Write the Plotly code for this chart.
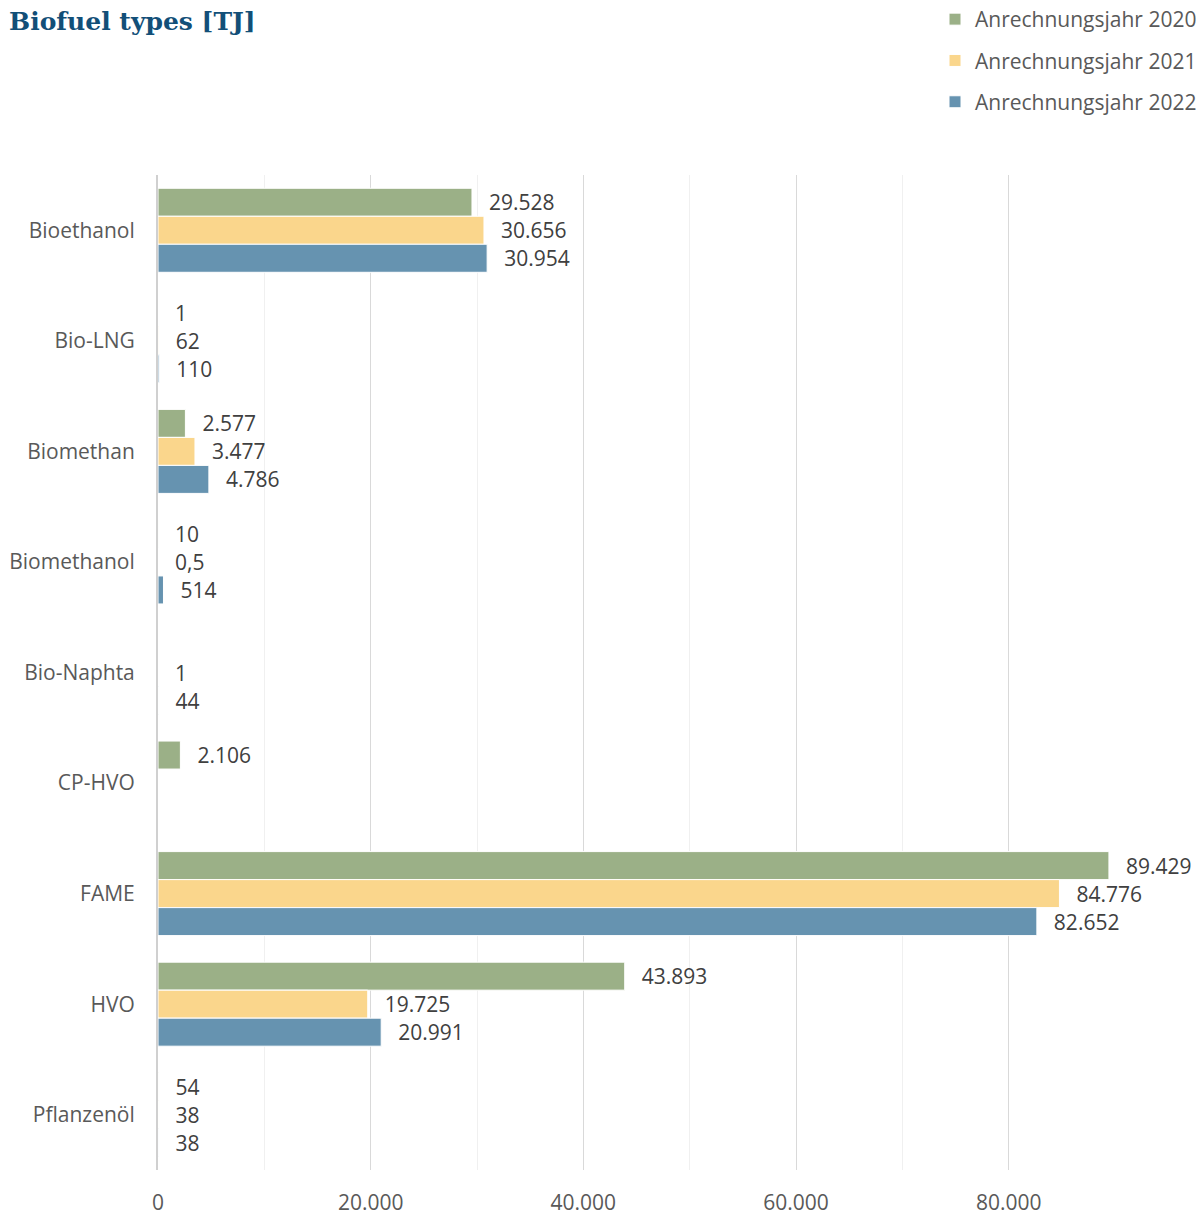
import plotly.graph_objects as go

categories = ["Bioethanol", "Bio-LNG", "Biomethan", "Biomethanol", "Bio-Naphta",
              "CP-HVO", "FAME", "HVO", "Pflanzenöl"]
series_names = ["Anrechnungsjahr 2020", "Anrechnungsjahr 2021", "Anrechnungsjahr 2022"]
values_2020 = [29528, 1, 2577, 10, None, 2106, 89429, 43893, 54]
values_2021 = [30656, 62, 3477, 0.5, 1, None, 84776, 19725, 38]
values_2022 = [30954, 110, 4786, 514, 44, None, 82652, 20991, 38]
colors = ["#9bb087", "#fad68c", "#6693b0"]
x_tickvals = [0, 20000, 40000, 60000, 80000]

# page body has an 8px default margin, so the figure is 8px smaller
W, H = 1196, 1208
ML, MR, MT, MB = 150, 89, 167, 46
PH = H - MT - MB

fig = go.Figure()
for name, vals, col in zip(series_names, [values_2020, values_2021, values_2022], colors):
    fig.add_trace(go.Bar(
        y=categories, x=vals, name=name, orientation="h",
        marker=dict(color=col, line=dict(color="white", width=1)),
        texttemplate="\u2002\u2009%{x:,}", textposition="outside",
        textfont=dict(family="Open Sans", size=21, color="#404040"),
        constraintext="none", cliponaxis=False,
        legendgroup=name, hoverinfo="x+y",
    ))

fig.update_layout(
    width=W, height=H,
    paper_bgcolor="white", plot_bgcolor="white",
    separators=",.",
    barmode="group", bargap=0.24, bargroupgap=0,
    margin=dict(l=ML, r=MR, t=MT, b=MB, autoexpand=False),
    font=dict(family="Open Sans", size=21, color="#595959"),
    title=dict(text="<b>Biofuel types [TJ]</b>", x=1/W, xanchor="left",
               y=1 - 4/H, yanchor="top", xref="container", yref="container",
               font=dict(family="DejaVu Serif", size=25, color="#124f78")),
    legend=dict(x=927/W, xanchor="left", y=1 + (MT + 9)/PH, yanchor="top",
                xref="container", yref="paper", tracegroupgap=11,
                font=dict(family="Open Sans", size=21, color="#595959"),
                bgcolor="rgba(0,0,0,0)"),
    showlegend=True,
)
fig.update_xaxes(range=[0, 90000], autorange=False, tickvals=x_tickvals, tickformat=",",
                 showgrid=True, gridcolor="#d9d9d9", gridwidth=1,
                 minor=dict(dtick=10000, tick0=0, showgrid=True, gridcolor="#f0f0f0", gridwidth=1),
                 zeroline=False,
                 ticklabelstandoff=18,
                 tickfont=dict(family="Open Sans", size=21, color="#595959"),
                 fixedrange=True)
fig.update_yaxes(autorange="reversed", showgrid=False, ticklabelstandoff=17,
                 showline=True, linecolor="#d0d0d0", linewidth=2,
                 tickfont=dict(family="Open Sans", size=21, color="#595959"),
                 fixedrange=True)

fig.write_html("out.html")
